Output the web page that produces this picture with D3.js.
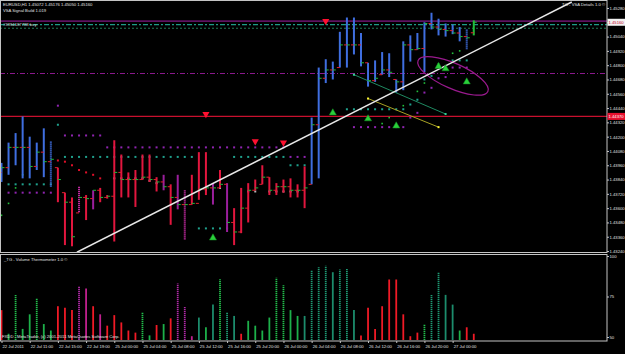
<!DOCTYPE html>
<html>
<head>
<meta charset="utf-8">
<script src="https://cdn.jsdelivr.net/npm/d3@7"></script>
<style>
  html, body { margin: 0; padding: 0; background: #000; overflow: hidden; }
  svg { display: block; font-family: "Liberation Sans", Arial, sans-serif; }
</style>
</head>
<body>
<svg id="chart" width="625" height="354"></svg>
<script>
// EURUSD H1 bars (22 Jul 07:00 .. 27 Jul 03:00)
const barHigh = [
  1.4398, 1.4415, 1.4423, 1.4437, 1.4420, 1.4415, 1.4427, 1.4416,
  1.4394, 1.4373, 1.4369, 1.4378, 1.4371, 1.4375, 1.4377, 1.4371,
  1.4417, 1.4405, 1.4390, 1.4392, 1.4405, 1.4405, 1.4386, 1.4388,
  1.4380, 1.4388, 1.4375, 1.4388, 1.4407, 1.4407, 1.4381, 1.4392,
  1.4381, 1.4360, 1.4377, 1.4381, 1.4384, 1.4396, 1.4386, 1.4381,
  1.4384, 1.4385, 1.4380, 1.4395, 1.4436, 1.4478, 1.4485, 1.4483,
  1.4508, 1.4520, 1.4520, 1.4507, 1.4482, 1.4484, 1.4491, 1.4490,
  1.4468, 1.4500, 1.4505, 1.4507, 1.4516, 1.4524, 1.4519, 1.4515,
  1.4514, 1.4512, 1.4510, 1.45176
];
const barLow = [
  1.4382, 1.4388, 1.4396, 1.4385, 1.4385, 1.4392, 1.4386, 1.4378,
  1.4365, 1.4329, 1.4328, 1.4356, 1.4350, 1.4359, 1.4365, 1.4368,
  1.4332, 1.4369, 1.4369, 1.4361, 1.4384, 1.4382, 1.4374, 1.4375,
  1.4346, 1.4359, 1.4333, 1.4363, 1.4367, 1.4371, 1.4363, 1.4377,
  1.4340, 1.4329, 1.4339, 1.4348, 1.4375, 1.4380, 1.4371, 1.4371,
  1.4373, 1.4369, 1.4369, 1.4360, 1.4380, 1.4385, 1.4465, 1.4468,
  1.4478, 1.4478, 1.4489, 1.4479, 1.4462, 1.4466, 1.4472, 1.4470,
  1.4457, 1.4459, 1.4483, 1.4493, 1.4474, 1.4510, 1.4505, 1.4504,
  1.4506, 1.4500, 1.4493, 1.45050
];
const barOpen = [
  1.4390, 1.4394, 1.4411, 1.4411, 1.4411, 1.4395, 1.4407, 1.4399,
  1.4394, 1.4373, 1.4365, 1.4356, 1.4369, 1.4368, 1.4375, 1.4369,
  1.4370, 1.4390, 1.4384, 1.4384, 1.4384, 1.4386, 1.4384, 1.4382,
  1.4378, 1.4369, 1.4363, 1.4363, 1.4364, 1.4376, 1.4377, 1.4377,
  1.4380, 1.4348, 1.4340, 1.4360, 1.4375, 1.4380, 1.4386, 1.4375,
  1.4378, 1.4378, 1.4375, 1.4375, 1.4380, 1.4430, 1.4469, 1.4476,
  1.4478, 1.4497, 1.4497, 1.4497, 1.4482, 1.4467, 1.4472, 1.4476,
  1.4468, 1.4466, 1.4497, 1.4493, 1.4494, 1.4515, 1.4512, 1.4510,
  1.4509, 1.4507, 1.4504, 1.45072
];
const barClose = [
  1.4394, 1.4411, 1.4411, 1.4411, 1.4395, 1.4407, 1.4399, 1.4401,
  1.4384, 1.4365, 1.4336, 1.4369, 1.4368, 1.4375, 1.4369, 1.4370,
  1.4390, 1.4384, 1.4384, 1.4384, 1.4386, 1.4384, 1.4382, 1.4378,
  1.4369, 1.4363, 1.4363, 1.4364, 1.4376, 1.4377, 1.4377, 1.4380,
  1.4348, 1.4340, 1.4360, 1.4375, 1.4377, 1.4386, 1.4375, 1.4378,
  1.4378, 1.4375, 1.4375, 1.4377, 1.4430, 1.4469, 1.4476, 1.4476,
  1.4497, 1.4497, 1.4497, 1.4482, 1.4467, 1.4469, 1.4476, 1.4474,
  1.4466, 1.4497, 1.4493, 1.4494, 1.4515, 1.4512, 1.4510, 1.4509,
  1.4507, 1.4504, 1.4503, 1.45160
];
// b blue, B blue dotted, r red, p purple, P purple dotted, g green
const barKind = [
  'b','b','b','b','b','b','b','B',
  'r','r','r','P','r','p','r','r',
  'r','r','r','r','r','r','r','p',
  'r','p','P','r','r','r','p','r',
  'p','r','r','r','r','r','r','r',
  'r','r','r','r','b','b','b','b',
  'b','b','b','b','b','b','b','b',
  'b','b','b','b','b','b','b','b',
  'b','b','B','g'
];

// Volume Thermometer
const volValue = [
  66.6, 52, 76, 55, 64, 74, 58, 54,
  69, 68, 66.6, 81, 80, 69, 64, 57,
  63.5, 59, 54, 52.7, 65, 51, 57.4, 58,
  61.5, 83, 68.5, 50.5, 62, 56, 70, 85.7,
  65, 63, 52, 60, 57, 54, 62, 86.6,
  82, 66.6, 63, 63, 91, 93, 94, 90,
  91.6, 92, 66.6, 51, 68, 55, 69, 85.5,
  85.5, 64, 50.5, 52.7, 58, 76, 90, 76,
  70, 54, 56, 52
];
// r red, g green, G green dotted, t teal, T teal dotted, m magenta, M magenta dotted
const volKind = [
  'r','g','G','g','g','G','g','g',
  'r','r','r','M','m','r','m','r',
  'r','r','r','r','G','g','r','g',
  'r','M','M','m','t','g','t','G',
  'T','t','r','g','g','g','g','G',
  'G','g','g','t','T','T','T','t',
  'T','T','t','r','r','r','r','r',
  'r','r','r','r','G','T','T','t',
  't','g','r','r'
];

// Axis ticks
const priceTicks = [1.4528, 1.4516, 1.4504, 1.4492, 1.4480, 1.4468, 1.4456, 1.4444, 1.4432,
  1.4420, 1.4408, 1.4396, 1.4384, 1.4372, 1.4360, 1.4348, 1.4336, 1.4324];
const volTicks = [50, 75, 100];
const timeTickBars = [0, 4, 8, 12, 16, 20, 24, 28, 32, 36, 40, 44, 48, 52, 56, 60, 64];
const timeTickLabels = ['22 Jul 2011', '22 Jul 11:00', '22 Jul 15:00', '22 Jul 19:00', '25 Jul 00:00',
  '25 Jul 04:00', '25 Jul 08:00', '25 Jul 12:00', '25 Jul 16:00', '25 Jul 20:00', '26 Jul 00:00',
  '26 Jul 04:00', '26 Jul 08:00', '26 Jul 12:00', '26 Jul 16:00', '26 Jul 20:00', '27 Jul 00:00'];

// Indicator levels: [fromBar, toBar, price]
const purpleRows = [[1, 7, 1.4373], [9, 14, 1.4421], [15, 40, 1.4411], [41, 43, 1.4403], [50, 57, 1.4428]];
const tealRows = [[1, 7, 1.4380], [9, 27, 1.4403], [28, 32, 1.4343], [33, 40, 1.4403], [41, 43, 1.4396], [49, 57, 1.4443]];
// Single dots: [bar, price]
const purpleDots = [[8, 1.4446], [58, 1.4436], [59, 1.4440], [60, 1.4457], [61, 1.4461], [62, 1.4469],
  [63, 1.4470], [64, 1.4478], [65, 1.4478], [66, 1.4478]];
const tealDots = [[8, 1.4430], [58, 1.4447], [59, 1.4451], [60, 1.4468], [61, 1.4471], [64, 1.4484],
  [65, 1.4484], [66, 1.4484]];
const redDots = [[8, 1.4400], [9, 1.4399], [10, 1.4396], [11, 1.4392], [12, 1.4390], [13, 1.4388], [14, 1.4385]];
const greenDots = [[0, 1.4354], [1, 1.4364], [2, 1.4377], [3, 1.4388], [54, 1.4431], [55, 1.4436],
  [57, 1.4446], [59, 1.4458], [60, 1.4465], [62, 1.4481], [64, 1.4490], [65, 1.4492]];
const grayDots = [[16, 1.4385], [17, 1.4385], [18, 1.4385], [19, 1.4385], [20, 1.4385], [21, 1.4383],
  [22, 1.4381], [29, 1.4375], [31, 1.4377], [35, 1.4374], [36, 1.4374], [38, 1.4374], [39, 1.4374],
  [40, 1.4374], [41, 1.4374], [42, 1.4374]];

// Signals
const sellArrows = [[29, 1.4439], [36, 1.4416], [40, 1.4415], [46, 1.4517]];
const buyArrows = [[30, 1.4335], [47, 1.4440], [52, 1.4435], [56, 1.4429], [62, 1.4479], [63, 1.4477], [66, 1.4466]];

// Objects
const trendLine = [[10.7, 1.4323], [80.9, 1.4533]];
const tealSegment = [[50, 1.4472], [63, 1.4439]];
const yellowSegment = [[52, 1.4452], [62, 1.4428]];
const ellipseAxis = [[59.1, 1.4484], [69, 1.4458]];

// Horizontal levels
const orderLevel = 1.4517;
const dashLevels = [1.4514, 1.4511];
const purpleLevel = 1.4473;
const redLevel = 1.4437;
const bidPrice = 1.45160;

// Colours
const COL = {
  b: '#3f6ee0', B: '#3f6ee0', r: '#e2163e', p: '#9a1f9c', P: '#c02aa0', g: '#22c03a',
  teal: '#1fa08c', purple: '#8f24b0', red: '#e0102a', green: '#21c23b', gray: '#b8b8b8',
  axis: '#c4c4c4', text: '#e0e0e0'
};
const VOLCOL = { r: '#f01a26', g: '#1db04a', G: '#22c04c', t: '#1c8c6c', T: '#1e9a74', m: '#c0208e', M: '#b22aa8' };
const FS = 4.2;

const svg = d3.select('#chart');

// Scales
const x = d3.scaleLinear().domain([0, 85.9]).range([1.5, 607]);
const y = d3.scaleLinear().domain([1.43232, 1.45347]).range([252, 0]);
const yVol = d3.scaleLinear().domain([50, 100]).range([337, 256]);

svg.append('defs').append('clipPath').attr('id', 'mainClip')
  .append('rect').attr('x', 0).attr('y', 1).attr('width', 607).attr('height', 251);

const gMain = svg.append('g').attr('clip-path', 'url(#mainClip)');

// Horizontal levels
gMain.append('line')
  .attr('x1', 0).attr('x2', 607).attr('y1', y(orderLevel)).attr('y2', y(orderLevel))
  .attr('stroke', '#a01fa6').attr('stroke-width', 1);
gMain.selectAll('line.dash')
  .data(dashLevels)
  .enter()
  .append('line')
  .attr('class', 'dash')
  .attr('x1', 0).attr('x2', 607)
  .attr('y1', d => y(d)).attr('y2', d => y(d))
  .attr('stroke', (d, i) => i === 0 ? '#1d9a86' : '#1f7a55')
  .attr('stroke-width', 1.2)
  .attr('stroke-dasharray', (d, i) => i === 0 ? '5,2,2,2' : '2,2');
gMain.append('line')
  .attr('x1', 0).attr('x2', 607).attr('y1', y(purpleLevel)).attr('y2', y(purpleLevel))
  .attr('stroke', '#8a1a8c').attr('stroke-dasharray', '5,2,1,2');
gMain.append('line')
  .attr('x1', 0).attr('x2', 607).attr('y1', y(redLevel)).attr('y2', y(redLevel))
  .attr('stroke', '#c8102e').attr('stroke-width', 1.2);

// Dots
function dot(g, pts, color, s) {
  g.selectAll(null)
    .data(pts)
    .enter()
    .append('rect')
    .attr('x', d => x(d[0]) - s / 2)
    .attr('y', d => y(d[1]) - s / 2)
    .attr('width', s).attr('height', s)
    .attr('fill', color);
}
const rowPts = rows => rows.flatMap(r => d3.range(r[0], r[1] + 1).map(i => [i, r[2]]));
dot(gMain, rowPts(purpleRows), COL.purple, 2);
dot(gMain, purpleDots, COL.purple, 2);
dot(gMain, rowPts(tealRows), COL.teal, 2);
dot(gMain, tealDots, COL.teal, 2);
dot(gMain, redDots, COL.red, 2);
dot(gMain, greenDots, COL.green, 1.6);
dot(gMain, grayDots, COL.gray, 2);

// Bars
const idx = d3.range(barHigh.length);
gMain.selectAll('line.bar')
  .data(idx)
  .enter()
  .append('line')
  .attr('class', 'bar')
  .attr('x1', i => x(i)).attr('x2', i => x(i))
  .attr('y1', i => y(barHigh[i])).attr('y2', i => y(barLow[i]))
  .attr('stroke', i => COL[barKind[i]])
  .attr('stroke-width', 2)
  .attr('stroke-dasharray', i => (barKind[i] === 'B' || barKind[i] === 'P') ? '1.2,0.8' : null);
gMain.selectAll('line.open')
  .data(idx)
  .enter()
  .append('line')
  .attr('x1', i => x(i) - 3).attr('x2', i => x(i))
  .attr('y1', i => y(barOpen[i])).attr('y2', i => y(barOpen[i]))
  .attr('stroke', '#e0202e').attr('stroke-width', 1);
gMain.selectAll('line.close')
  .data(idx)
  .enter()
  .append('line')
  .attr('x1', i => x(i)).attr('x2', i => x(i) + 3)
  .attr('y1', i => y(barClose[i])).attr('y2', i => y(barClose[i]))
  .attr('stroke', '#20b83a').attr('stroke-width', 1);

// Segments
const seg = (pts, color) => {
  gMain.append('line')
    .attr('x1', x(pts[0][0])).attr('y1', y(pts[0][1]))
    .attr('x2', x(pts[1][0])).attr('y2', y(pts[1][1]))
    .attr('stroke', color).attr('stroke-width', 1);
  dot(gMain, pts, d3.color(color).brighter(1.2), 2);
};
seg(tealSegment, '#1f8a62');
seg(yellowSegment, '#a8a224');

// Ellipse
const e0 = [x(ellipseAxis[0][0]), y(ellipseAxis[0][1])];
const e1 = [x(ellipseAxis[1][0]), y(ellipseAxis[1][1])];
const eRx = Math.hypot(e1[0] - e0[0], e1[1] - e0[1]) / 2;
const eAng = Math.atan2(e1[1] - e0[1], e1[0] - e0[0]) * 180 / Math.PI;
gMain.append('ellipse')
  .attr('cx', 0).attr('cy', 0).attr('rx', eRx).attr('ry', eRx * 0.33)
  .attr('transform', `translate(${(e0[0] + e1[0]) / 2},${(e0[1] + e1[1]) / 2}) rotate(${eAng})`)
  .attr('fill', 'none').attr('stroke', '#9a1a8e').attr('stroke-width', 1.2);

// Trend line
gMain.append('line')
  .attr('x1', x(trendLine[0][0])).attr('y1', y(trendLine[0][1]))
  .attr('x2', x(trendLine[1][0])).attr('y2', y(trendLine[1][1]))
  .attr('stroke', '#e8e8e8').attr('stroke-width', 1.5);

// Arrows
const tri = d3.symbol().type(d3.symbolTriangle).size(22);
gMain.selectAll(null)
  .data(sellArrows)
  .enter()
  .append('path')
  .attr('d', tri)
  .attr('transform', d => `translate(${x(d[0])},${y(d[1])}) rotate(180)`)
  .attr('fill', '#ff1030');
gMain.selectAll(null)
  .data(buyArrows)
  .enter()
  .append('path')
  .attr('d', tri)
  .attr('transform', d => `translate(${x(d[0])},${y(d[1])})`)
  .attr('fill', '#2ad03a').attr('stroke', '#128a22').attr('stroke-width', 0.5);

// Volume bars
const gVol = svg.append('g');
gVol.selectAll('line')
  .data(idx)
  .enter()
  .append('line')
  .attr('x1', i => x(i)).attr('x2', i => x(i))
  .attr('y1', 340).attr('y2', i => yVol(volValue[i]))
  .attr('stroke', i => VOLCOL[volKind[i]])
  .attr('stroke-width', 1.8)
  .attr('stroke-dasharray', i => /[GTM]/.test(volKind[i]) ? '1.2,0.8' : null);

// Frames
svg.append('rect').attr('x', 0.5).attr('y', 0.5).attr('width', 606.5).attr('height', 252)
  .attr('fill', 'none').attr('stroke', COL.axis);
svg.append('rect').attr('x', 0.5).attr('y', 254.5).attr('width', 606.5).attr('height', 86.5)
  .attr('fill', 'none').attr('stroke', COL.axis);

// Axes
function styleAxis(g) {
  g.attr('font-family', '"Liberation Sans", Arial, sans-serif').attr('font-size', FS);
  g.select('.domain').remove();
  g.selectAll('line').attr('stroke', COL.axis);
  g.selectAll('text').attr('fill', COL.text);
}
svg.append('g').attr('transform', 'translate(607,0)')
  .call(d3.axisRight(y).tickValues(priceTicks).tickFormat(d3.format('.5f')).tickSize(2).tickPadding(0.5))
  .call(styleAxis);
svg.append('g').attr('transform', 'translate(607,0)')
  .call(d3.axisRight(yVol).tickValues(volTicks).tickFormat(d3.format('d')).tickSize(2).tickPadding(0.5))
  .call(styleAxis);
svg.append('g').attr('transform', 'translate(0,341)')
  .call(d3.axisBottom(x).tickValues(timeTickBars).tickFormat((d, i) => timeTickLabels[i]).tickSize(2).tickPadding(2.5))
  .call(styleAxis)
  .selectAll('text').attr('text-anchor', 'start').attr('dx', 0.5);

// Price labels on the right
function priceTag(p, bg, fg) {
  svg.append('rect').attr('x', 607.5).attr('y', y(p) - 3.5).attr('width', 17.5).attr('height', 7).attr('fill', bg);
  svg.append('text').attr('x', 608.5).attr('y', y(p) + 1.6).attr('font-size', FS).attr('fill', fg)
    .text(d3.format('.5f')(p));
}
priceTag(bidPrice, '#f2f2f2', '#c0002a');
priceTag(redLevel, '#e8102e', '#ffffff');

// Texts
const label = (t, tx, ty, col, anchor) => svg.append('text')
  .attr('x', tx).attr('y', ty).attr('font-size', FS).attr('fill', col || COL.text)
  .attr('text-anchor', anchor || 'start').text(t);
label('EURUSD,H1  1.45072 1.45176 1.45050 1.45160', 3, 6);
label('VSA Signal Build 1.019', 3, 12);
label('#3994187788 buy', 3, 26, '#d8d8d8');
label('TG - VSA Details 1.0 \u00a9', 605, 6, COL.text, 'end');
label('_TG - Volume Thermometer 1.0 \u00a9', 4, 261);
label('FXDD - MetaTrader, (c) 2001-2011 MetaQuotes Software Corp.', 2, 338);
</script>
</body>
</html>
